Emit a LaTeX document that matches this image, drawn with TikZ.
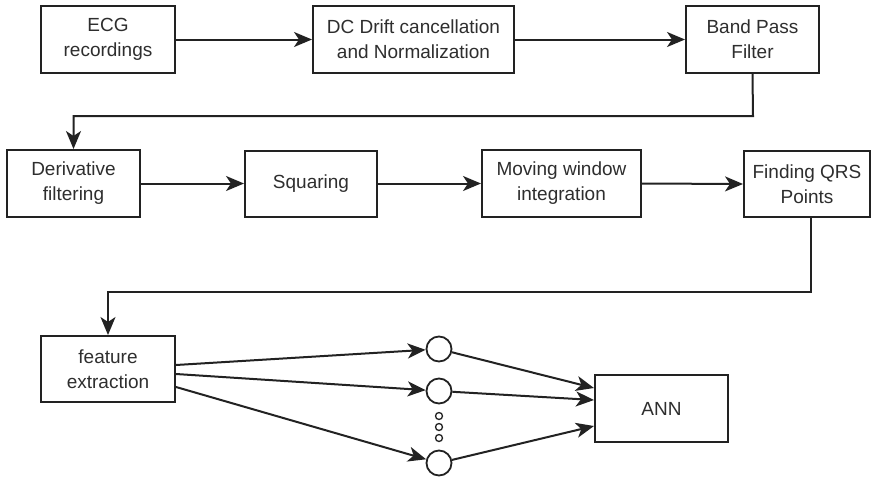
\documentclass[tikz,border=0pt]{standalone}
\usepackage{fontspec}
\setmainfont{Liberation Sans}
\usetikzlibrary{arrows.meta}
\definecolor{ln}{HTML}{222222}
\definecolor{tx}{HTML}{2e2e2e}
\begin{document}
\begin{tikzpicture}[x=1pt,y=-1pt,
  box/.style={draw=ln, line width=2pt, fill=white, align=center, text=tx,
    font=\fontsize{19}{25}\selectfont, inner sep=0pt, anchor=center},
  neuron/.style={draw=ln, line width=1.8pt, circle, minimum size=25pt, inner sep=0pt},
  dotc/.style={draw=ln, line width=1.3pt, circle, minimum size=7pt, inner sep=0pt},
  arr/.style={draw=ln, line width=2pt, -{Stealth[length=18pt,width=15pt,inset=5pt]}}]
\useasboundingbox (0,0) rectangle (873,477);
\fill[white] (0,0) rectangle (873,477);
% row 1
\node[box, minimum width=134pt, minimum height=67pt] (ecg) at (108,39.5) {ECG\\recordings};
\node[box, minimum width=201pt, minimum height=67pt] (dc) at (413.5,39.5) {DC Drift cancellation\\and Normalization};
\node[box, minimum width=133pt, minimum height=67pt] (bpf) at (752.5,39.5) {Band Pass\\Filter};
% row 2
\node[box, minimum width=133pt, minimum height=67pt] (der) at (73.5,183.5) {Derivative\\filtering};
\node[box, minimum width=132pt, minimum height=66pt] (sq) at (311,183.5) {Squaring};
\node[box, minimum width=159pt, minimum height=67pt] (mw) at (561.5,183.5) {Moving window\\integration};
\node[box, minimum width=126pt, minimum height=66pt] (qrs) at (807,184) {Finding QRS\\Points};
% row 3
\node[box, minimum width=134pt, minimum height=66pt] (fe) at (108,369) {feature\\extraction};
\node[box, minimum width=133pt, minimum height=67pt] (ann) at (661.5,408.5) {ANN};
\node[neuron] (c1) at (439,349) {};
\node[neuron] (c2) at (439,391) {};
\node[neuron] (c3) at (439,463) {};
\node[dotc] (d1) at (439,416) {};
\node[dotc] (d2) at (439,427) {};
\node[dotc] (d3) at (439,438) {};
% connectors
\coordinate (k1) at (753,116);
\coordinate (k2) at (811,292);
\draw[arr] (ecg.east) -- (dc.west);
\draw[arr] (dc.east) -- (bpf.west);
\draw[arr] (bpf.south) -- (k1) -| (der.north);
\draw[arr] (der.east) -- (sq.west);
\draw[arr] (sq.east) -- (mw.west);
\draw[arr] (mw.east) -- (qrs.west);
\draw[arr] (qrs.south -| k2) -- (k2) -| (fe.north);
\draw[arr] ([yshift=4pt]fe.east) -- (c1);
\draw[arr] ([yshift=-5pt]fe.east) -- (c2);
\draw[arr] ([yshift=-18pt]fe.east) -- (c3);
\draw[arr] (c1) -- ([yshift=20.5pt]ann.west);
\draw[arr] (c2) -- ([yshift=8.5pt]ann.west);
\draw[arr] (c3) -- ([yshift=-17.5pt]ann.west);
\end{tikzpicture}
\end{document}
